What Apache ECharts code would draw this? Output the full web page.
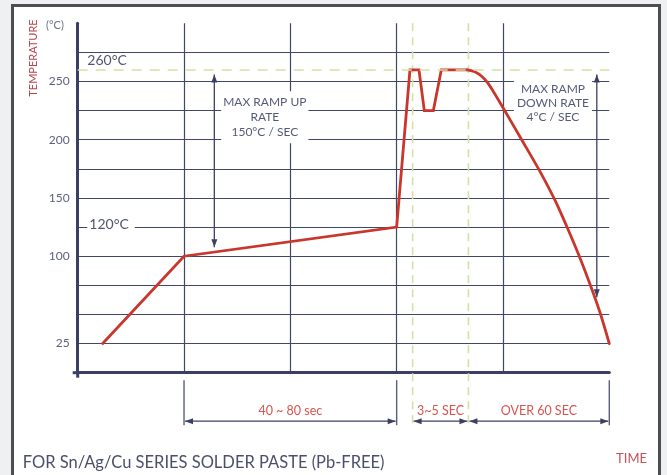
<!DOCTYPE html>
<html>
<head>
<meta charset="utf-8">
<script src="https://cdn.jsdelivr.net/npm/echarts@6/dist/echarts.min.js"></script>
<style>
html,body{margin:0;padding:0;background:#eef0f2;}
#c{width:667px;height:475px;}
</style>
</head>
<body>
<div id="c"></div>
<script>
// ---- data ----
const profileX = [4.7, 20, 60, 62.5, 64.2, 65.2, 66.9, 68.4, 73.3];
const profileY = [25, 100, 125, 260, 260, 225, 225, 260, 260];
const coolX = [73.3, 74.7, 76.1, 77.2, 78.3, 80.4, 83.6, 87.0, 89.8, 92.0, 94.3, 96.6, 98.3, 100];
const coolY = [260, 258.4, 254.1, 248.3, 240.5, 224.4, 199.3, 172.4, 147.9, 125.5, 100.6, 73.2, 51.0, 25];
const yTickLabels = [25, 100, 150, 200, 250];
const peakTemp = 260;
const peakLabel = '260°C';
const soakTemp = 125;
const soakLabel = '120°C';
const phaseBounds = [20, 60, 63, 73.5, 100];
const phaseLabels = ['40 ~ 80 sec', '3~5 SEC', 'OVER 60 SEC'];
const rampUpText = 'MAX RAMP UP\nRATE\n150°C / SEC';
const rampDownText = 'MAX RAMP\nDOWN RATE\n4°C / SEC';
const yName = 'TEMPERATURE';
const yUnit = '(°C)';
const xName = 'TIME';
const footText = 'FOR Sn/Ag/Cu SERIES SOLDER PASTE (Pb-FREE)';

// ---- styles ----
const NAVY = '#41466b';
const AXIS = '#3b3f63';
const RED = '#c9362c';
const GREEN = '#d3e2a0';
const TXT = '#555a78';
const RTXT = '#d9534f';
const FONT = 'Lato, "Noto Sans", sans-serif';

const chart = echarts.init(document.getElementById('c'), null, {renderer: 'canvas'});

const option = {
  animation: false,
  backgroundColor: 'transparent',
  grid: {left: 77.7, right: 57.7, top: 23.2, bottom: 102.3},
  xAxis: {
    type: 'value', min: 0, max: 100, interval: 20,
    axisLine: {show: true, lineStyle: {color: AXIS, width: 3}},
    axisTick: {show: false},
    axisLabel: {show: false},
    splitLine: {show: true, showMinLine: false, showMaxLine: false, lineStyle: {color: NAVY, width: 1.2}}
  },
  yAxis: {
    type: 'value', min: 0, max: 300, interval: 25,
    axisLine: {show: true, lineStyle: {color: AXIS, width: 3}},
    axisTick: {show: false},
    axisLabel: {
      show: true, margin: 8,
      formatter: v => (yTickLabels.indexOf(v) >= 0 ? String(v) : ''),
      color: '#5d6180', fontSize: 12, fontFamily: FONT
    },
    splitLine: {show: true, showMinLine: false, showMaxLine: false, lineStyle: {color: NAVY, width: 1.2}}
  },
  series: [
    {
      type: 'line', z: 3,
      data: profileX.map((x, i) => [x, profileY[i]]),
      symbol: 'none',
      lineStyle: {color: RED, width: 2.8, join: 'miter', cap: 'round'},
      markLine: {
        silent: true, symbol: 'none', label: {show: false},
        lineStyle: {color: GREEN, type: [10, 8], width: 1.6},
        data: [{yAxis: peakTemp}]
      }
    },
    {
      type: 'line', z: 3,
      data: coolX.map((x, i) => [x, coolY[i]]),
      symbol: 'none', smooth: 0.3,
      lineStyle: {color: RED, width: 2.8, cap: 'round'}
    }
  ]
};
chart.setOption(option);

// ---- annotations positioned through the chart's own scales ----
const P = (x, y) => chart.convertToPixel({gridIndex: 0}, [x, y]);
const g = [];

function seg(p1, p2, color, w, dash, z) {
  g.push({type: 'line', silent: true, z: z || 1,
    shape: {x1: p1[0], y1: p1[1], x2: p2[0], y2: p2[1]},
    style: {stroke: color, lineWidth: w, lineDash: dash || null}});
}
function head(tip, from, color) {
  const dx = tip[0] - from[0], dy = tip[1] - from[1];
  const len = Math.hypot(dx, dy); const ux = dx / len, uy = dy / len;
  const L = 8, W = 3;
  const bx = tip[0] - ux * L, by = tip[1] - uy * L;
  g.push({type: 'polygon', silent: true, z: 1,
    shape: {points: [tip, [bx - uy * W, by + ux * W], [bx + uy * W, by - ux * W]]},
    style: {fill: color}});
}
function dblArrow(p1, p2, color) {
  seg(p1, p2, color, 1.3);
  head(p1, p2, color);
  head(p2, p1, color);
}
function text(p, str, opt) {
  g.push(Object.assign({type: 'text', silent: true, z: 1, x: p[0], y: p[1],
    style: Object.assign({text: str, x: 0, y: 0, fill: TXT, font: '12px ' + FONT,
      align: 'center', verticalAlign: 'middle'}, opt.style || {})}, opt.el || {}));
}

// frame behind everything
g.push({type: 'rect', silent: true, z: -100,
  shape: {x: 12.5, y: 5.5, width: 647, height: 480},
  style: {fill: '#ffffff', stroke: '#4e4e50', lineWidth: 3}});

// axis cross stubs at the origin
const origin = P(0, 0);
seg([origin[0] - 5, origin[1]], [origin[0] + 1, origin[1]], AXIS, 3, null, 2);
seg([origin[0], origin[1] - 1], [origin[0], origin[1] + 5], AXIS, 3, null, 2);

// vertical green dashed lines (peak window)
[phaseBounds[2], phaseBounds[3]].forEach(v => {
  const top = P(v, 300), bot = P(v, -47);
  seg(top, bot, GREEN, 1.6, [8, 6], 1);
});

// peak & soak labels
text([origin[0] + 9.6, P(0, 267.8)[1]], peakLabel,
  {style: {align: 'left', font: '14px ' + FONT, fill: '#50546f'}});
text([origin[0] + 9.6, P(0, 127.5)[1]], soakLabel,
  {style: {align: 'left', font: '14px ' + FONT, fill: '#50546f',
    backgroundColor: '#ffffff', padding: [2, 6, 2, 2]}});

// ramp-up arrow and text
dblArrow(P(25.7, 256), P(25.7, 107.6), AXIS);
text(P(35.2, 219.3), rampUpText,
  {style: {lineHeight: 14.7, backgroundColor: '#ffffff', padding: [4, 2], fill: TXT}});

// ramp-down arrow and text
dblArrow(P(97.65, 256), P(97.65, 64.7), AXIS);
text(P(89.4, 231.5), rampDownText,
  {style: {lineHeight: 14.3, backgroundColor: '#ffffff', padding: [4, 3], fill: TXT}});

// bottom time-span annotations
const tickTop = origin[1] + 7.5, tickBot = origin[1] + 52.5, arrY = origin[1] + 48.5, lblY = origin[1] + 38.5;
[phaseBounds[0], phaseBounds[1], phaseBounds[4]].forEach(v => {
  const x = P(v, 0)[0];
  seg([x, tickTop], [x, tickBot], '#5a5e80', 1.4);
});
const spans = [[phaseBounds[0], phaseBounds[1]], [phaseBounds[2], phaseBounds[3]], [phaseBounds[3], phaseBounds[4]]];
spans.forEach((s, i) => {
  const x1 = P(s[0], 0)[0] + 1, x2 = P(s[1], 0)[0] - 1;
  dblArrow([x1, arrY], [x2, arrY], AXIS);
  text([(x1 + x2) / 2, lblY], phaseLabels[i], {style: {fill: RTXT, font: '12.5px ' + FONT}});
});

// axis names, footnote
text([33, 58], yName, {style: {fill: '#b4464a', font: '11px ' + FONT}, el: {rotation: Math.PI / 2}});
text([55, 25.7], yUnit, {style: {fill: '#6a6e88', font: '11px ' + FONT}});
text([647, 458.7], xName, {style: {fill: '#c8505a', font: '13px ' + FONT, align: 'right'}});
text([22.7, 462.5], footText, {style: {fill: '#4b4f6b', font: '16.5px ' + FONT, align: 'left'}});

chart.setOption({graphic: {elements: g}});
</script>
</body>
</html>
